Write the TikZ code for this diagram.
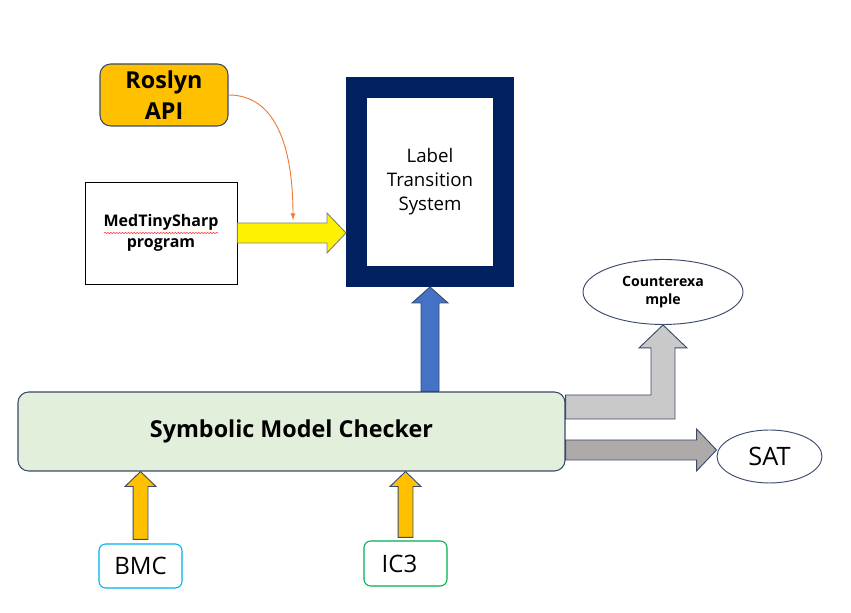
\documentclass[tikz,border=0pt]{standalone}
\usepackage{fontspec}
\setmainfont{Open Sans}
\usepackage{tikz}
\usetikzlibrary{arrows,shapes,calc}
\usetikzlibrary{positioning}
\usetikzlibrary{decorations.pathmorphing}
\definecolor{navy}{HTML}{002060}
\definecolor{roslyn}{HTML}{FFC000}
\definecolor{outl}{HTML}{3B4A6B}
\definecolor{smcfill}{HTML}{E2EFDA}
\definecolor{cexgray}{HTML}{C9C9C9}
\definecolor{satgray}{HTML}{AEAAAA}
\definecolor{ltsblue}{HTML}{4472C4}
\definecolor{curve}{HTML}{ED7D31}
\definecolor{bmcblue}{HTML}{00B0F0}
\definecolor{icgreen}{HTML}{00B050}
\tikzstyle{api}=[rounded corners=8pt, fill=roslyn, draw=outl, line width=0.8pt,
                 font=\bfseries\fontsize{17.5}{23}\selectfont, align=center]
\tikzstyle{prog}=[draw=black, fill=white, line width=0.6pt, align=center,
                  font=\bfseries\fontsize{12}{16}\selectfont]
\tikzstyle{lts}=[draw=navy, fill=white, line width=15.75pt, align=center,
                 font=\fontsize{14}{18}\selectfont]
\tikzstyle{checker}=[rounded corners=8pt, fill=smcfill, draw=outl, line width=0.8pt,
                     font=\bfseries\fontsize{17.5}{20}\selectfont]
\tikzstyle{result}=[ellipse, draw=outl, fill=white, line width=0.7pt, align=center]
\tikzstyle{engine}=[rounded corners=5pt, fill=white, line width=0.8pt,
                    font=\fontsize{18}{21}\selectfont]
\tikzstyle{barrow}=[draw=outl, line width=0.7pt]
% block arrows: style, base, tip, shaft half, head half, head length
\newcommand{\blockup}[6]{\draw[#1] let \p1=(#2), \p2=(#3) in
  (\x2-#4,\y1) -- (\x2-#4,\y2-#6) -- (\x2-#5,\y2-#6) -- (\x2,\y2)
  -- (\x2+#5,\y2-#6) -- (\x2+#4,\y2-#6) -- (\x2+#4,\y1) -- cycle;}
\newcommand{\blockright}[6]{\draw[#1] let \p1=(#2), \p2=(#3) in
  (\x1,\y2+#4) -- (\x2-#6,\y2+#4) -- (\x2-#6,\y2+#5) -- (\x2,\y2)
  -- (\x2-#6,\y2-#5) -- (\x2-#6,\y2-#4) -- (\x1,\y2-#4) -- cycle;}
\newcommand{\blockelbow}[6]{\draw[#1] let \p1=(#2), \p2=(#3) in
  (\x1,\y1+#4) -- (\x2-#4,\y1+#4) -- (\x2-#4,\y2-#6) -- (\x2-#5,\y2-#6)
  -- (\x2,\y2) -- (\x2+#5,\y2-#6) -- (\x2+#4,\y2-#6) -- (\x2+#4,\y1-#4)
  -- (\x1,\y1-#4) -- cycle;}

\begin{document}
\begin{tikzpicture}[x=0.75pt,y=0.75pt]
\useasboundingbox (0,0) rectangle (851,613);
\node[api, minimum width=96pt, minimum height=46.5pt] (roslyn) at (164,518) {Roslyn\\API};
\node[prog, minimum width=114pt, minimum height=76.5pt] (program) at (161,380) {MedTinySharp\\program};
\node[lts, minimum width=110.25pt, minimum height=141.75pt] (lts) at (430,431) {Label\\Transition\\System};
\node[checker, minimum width=410.25pt, minimum height=59.25pt] (smc) at (291.5,181.5) {Symbolic Model Checker};
\node[result, minimum width=120pt, minimum height=48.75pt,
      font=\bfseries\fontsize{10.6}{14}\selectfont] (cex) at (663,321) {Counterexa\\mple};
\node[result, minimum width=78.75pt, minimum height=39.75pt,
      font=\fontsize{19}{22}\selectfont] (sat) at (769.5,156.5) {SAT};
\node[engine, draw=bmcblue, minimum width=62.25pt, minimum height=33pt] (bmc) at (140.5,47) {BMC};
\node[engine, draw=icgreen, minimum width=62.25pt, minimum height=33.75pt] (ic3) at (405.5,49.5) {\hspace*{-9pt}IC3};

% spelling mark under MedTinySharp
\draw[red!80, line width=0.4pt, decorate, decoration={snake,amplitude=0.5pt,segment length=2.2pt}]
  ($(program)+(-57,0)$) -- ($(program)+(57,0)$);

\coordinate (hook) at (293,393);
\path[->, >=latex, color=curve, line width=0.7pt]
  (roslyn.east) edge[out=0, in=90] (hook);

\blockright{barrow, draw=gray, fill=yellow}{program.east}{lts.west |- program.east}{7.5pt}{15pt}{14.25pt}
\blockup{barrow, fill=ltsblue}{smc.north -| lts.south}{lts.south}{6.75pt}{13.5pt}{12pt}
\blockelbow{barrow, fill=cexgray}{$(smc.east)+(0,24.5)$}{cex.south}{9pt}{18pt}{17.25pt}
\blockright{barrow, fill=satgray}{$(smc.east)+(0,-18.5)$}{sat.west |- {$(smc.east)+(0,-18.5)$}}{7.5pt}{15.75pt}{15pt}
\blockup{barrow, fill=roslyn}{$(bmc.north)+(0,4)$}{smc.south -| bmc.north}{5.6pt}{11.6pt}{11.25pt}
\blockup{barrow, fill=roslyn}{$(ic3.north)+(0,3)$}{smc.south -| ic3.north}{5.6pt}{11.6pt}{11.25pt}
\end{tikzpicture}
\end{document}
